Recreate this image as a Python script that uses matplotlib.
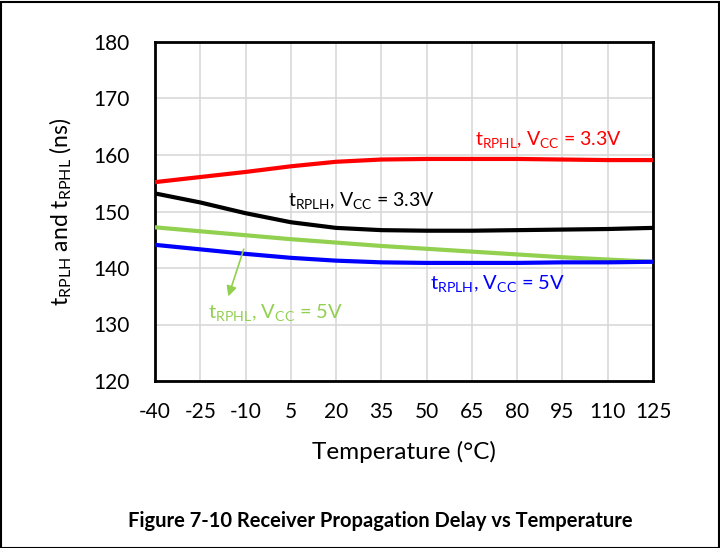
import matplotlib
matplotlib.use("Agg")
import matplotlib.pyplot as plt
from matplotlib.patches import Rectangle

plt.rcParams['font.family'] = ['Lato', 'DejaVu Sans']
plt.rcParams['mathtext.default'] = 'regular'
plt.rcParams['axes.unicode_minus'] = False

temps = [-40, -25, -10, 5, 20, 35, 50, 65, 80, 95, 110, 125]
rphl_33 = [155.2, 156.1, 157.0, 158.0, 158.8, 159.2, 159.3, 159.3, 159.3, 159.2, 159.1, 159.1]
rplh_33 = [153.2, 151.6, 149.7, 148.1, 147.1, 146.7, 146.6, 146.6, 146.7, 146.8, 146.9, 147.1]
rphl_5 = [147.2, 146.5, 145.8, 145.1, 144.5, 143.9, 143.4, 142.9, 142.4, 141.9, 141.5, 141.1]
rplh_5 = [144.1, 143.3, 142.5, 141.8, 141.3, 141.0, 140.9, 140.9, 140.9, 141.0, 141.0, 141.1]
yticks = [120, 130, 140, 150, 160, 170, 180]

fig = plt.figure(figsize=(7.2, 5.48), dpi=100)
ax = fig.add_axes([155/720, 1 - 381/548, (653 - 155)/720, (381 - 42)/548])

ax.plot(temps, rphl_33, color='#ff0000', lw=3, zorder=3)
ax.plot(temps, rplh_33, color='#000000', lw=3, zorder=3)
ax.plot(temps, rphl_5, color='#92d050', lw=3, zorder=3)
ax.plot(temps, rplh_5, color='#0000ff', lw=3, zorder=3)

ax.set_xlim(-40, 125)
ax.set_ylim(120, 180)
ax.set_xticks(temps)
ax.set_yticks(yticks)
ax.tick_params(axis='both', length=0, labelsize=15)
ax.tick_params(axis='x', pad=15)
ax.tick_params(axis='y', pad=18)
ax.grid(True, color='#d9d9d9', lw=1.2)
ax.set_axisbelow(True)
for s in ax.spines.values():
    s.set_linewidth(2)
    s.set_color('black')

ax.set_xlabel('Temperature (°C)', fontsize=17.5, labelpad=14)
ax.set_ylabel(r'$t_{RPLH}$ and $t_{RPHL}$ (ns)', fontsize=16.5, labelpad=14)

ax.text(66, 162.7, r'$t_{RPHL}$, $V_{CC}$ = 3.3V', color='#ff0000', fontsize=14, va='center')
ax.text(4, 152.0, r'$t_{RPLH}$, $V_{CC}$ = 3.3V', color='#000000', fontsize=14, va='center')
ax.text(51, 137.3, r'$t_{RPLH}$, $V_{CC}$ = 5V', color='#0000ff', fontsize=14.5, va='center')
ax.text(-22.4, 132.2, r'$t_{RPHL}$, $V_{CC}$ = 5V', color='#92d050', fontsize=14.5, va='center')
ax.annotate('', xy=(-16, 134.5), xytext=(-10.3, 143.8),
            arrowprops=dict(arrowstyle='-|>', color='#92d050', lw=1.2, mutation_scale=15))

fig.text(380/720, 1 - 521/548, 'Figure 7-10 Receiver Propagation Delay vs Temperature',
         ha='center', va='center', fontsize=14.5, fontweight='bold')
fig.patches.append(Rectangle((0.5/720, 0.5/548), 718/720, 546/548, transform=fig.transFigure,
                             fill=False, edgecolor='black', lw=1.5))

fig.savefig('out.png', dpi=100)
